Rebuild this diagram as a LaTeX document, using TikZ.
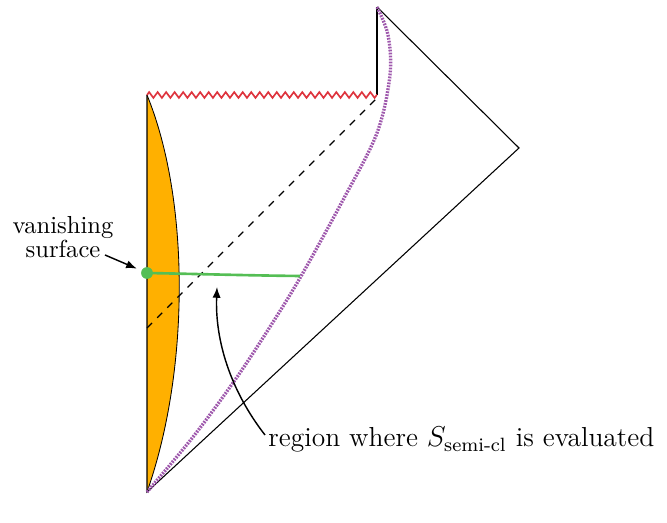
\documentclass[tikz,border=0pt]{standalone}
\usepackage{amsmath}
\usetikzlibrary{decorations.pathmorphing,arrows.meta}
\definecolor{orng}{RGB}{255,176,0}
\definecolor{grn}{RGB}{85,190,85}
\definecolor{zred}{RGB}{222,52,62}
\definecolor{purp}{RGB}{158,88,172}
\begin{document}
\begin{tikzpicture}[x=0.4184pt,y=-0.4184pt,
  edge/.style={line width=0.45pt},
  zig/.style={zred, line width=0.7pt, decorate, decoration={zigzag, segment length=3.56pt, amplitude=1.2pt}},
  dotcurve/.style={purp, line width=1.4pt, dash pattern=on 0.75pt off 0.5pt},
  gline/.style={grn, line width=1.1pt},
  lbl/.style={font=\fontsize{10.3}{10.3}\selectfont, inner sep=0pt},
  biglbl/.style={font=\fontsize{11.5}{13}\selectfont, inner sep=0pt},
  pointer/.style={line width=0.6pt, -{Latex[length=4.5pt,width=3.4pt]}}]
\useasboundingbox (0,0) rectangle (667,523);
\coordinate (B) at (147,492);
\coordinate (TL) at (147,95);
\coordinate (TR) at (377,95);
\coordinate (T) at (377,7);
\coordinate (R) at (519,148);
\coordinate (D1) at (147,328);
\coordinate (D2) at (377,98);
\coordinate (G2) at (300,276);
% orange region
\fill[orng] (TL) .. controls (190,200) and (190,370) .. (B) -- cycle;
\draw[line width=0.35pt] (TL) .. controls (190,200) and (190,370) .. (B);
% outline
\draw[edge] (T) -- (R) -- (B) -- (TL);
\draw[edge] (TR) -- (T);
% dashed
\draw[edge, dashed] (D1) -- (D2);
% purple dotted curve
\draw[dotcurve] plot[smooth, tension=0.55] coordinates {(147,492) (193,437) (235,380) (268,330) (300,278) (343,200) (377,133) (390,75) (388,35) (377,7)};
% zigzag singularity
\draw[zig] (TL) -- (TR);
% green line and dot
\node[circle, fill=grn, inner sep=0pt, minimum size=4.8pt] (gdot) at (147,273) {};
\draw[gline] (gdot.center) .. controls (200,274) and (250,275.5) .. (G2);
\node[circle, fill=grn, inner sep=0pt, minimum size=4.8pt] at (gdot) {};
% labels
\node[lbl, align=center] (vs) at (63,237) {vanishing\\surface};
\coordinate (va) at (105,255);
\draw[pointer, shorten >=2pt] (va) -- (gdot);
\node[biglbl, anchor=base west] (rg) at (268,447) {region where $S_{\text{semi-cl}}$ is evaluated};
\coordinate (ra) at (265,435);
\coordinate (rt) at (217,287);
\draw[pointer] (ra) .. controls (230,390) and (215,340) .. (rt);
\end{tikzpicture}
\end{document}
